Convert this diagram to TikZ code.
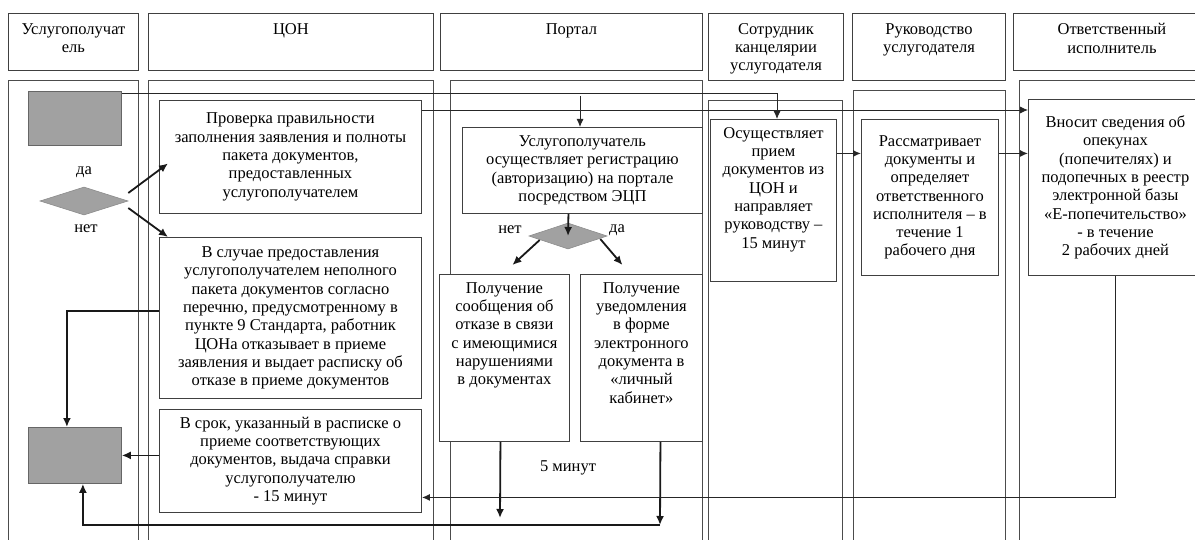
\documentclass[tikz,border=0pt]{standalone}
\usepackage{fontspec}
\setmainfont{Liberation Serif}
\usetikzlibrary{shapes.geometric,arrows.meta,calc}
\newcommand\dfont{\fontsize{16.5}{18.3}\selectfont}
\newcommand\cbx[3]{\parbox[c][#2][c]{#1}{\centering\dfont #3\par}}
\newcommand\tbx[4]{\parbox[c][#2][t]{#1}{\centering\dfont\vspace*{#3}#4\par}}
\begin{document}
\begin{tikzpicture}[x=1pt,y=-1pt,
  frame/.style={draw=black!70,line width=0.8pt},
  box/.style={draw=black!75,fill=white,line width=0.9pt,inner sep=0pt,anchor=north west,text=black},
  gbox/.style={draw=black!60,fill=black!37,line width=0.8pt,inner sep=0pt,anchor=north west},
  gdia/.style={diamond,draw=black!45,fill=black!37,line width=0.6pt,inner sep=0pt},
  lbl/.style={inner sep=0pt,font=\dfont,text=black},
  arrthin/.style={draw=black!85,line width=0.9pt,-{Latex[length=8pt,width=7pt]}},
  arrmid/.style={draw=black!85,line width=1.3pt,-{Latex[length=8pt,width=7pt]}},
  arrthick/.style={draw=black!90,line width=1.8pt,-{Latex[length=9pt,width=8pt]}}]
\useasboundingbox (0,0) rectangle (1195,540);
\clip (0,0) rectangle (1195,540);
\fill[white] (0,0) rectangle (1195,540);

% lane bodies
\draw[frame] (8,80) rectangle (138,560);
\draw[frame] (148,80) rectangle (433,560);
\draw[frame] (450,80) rectangle (702,560);
\draw[frame] (708,100) rectangle (842,560);
\draw[frame] (853,90) rectangle (1005,560);
\draw[frame] (1019,80) rectangle (1210,560);

% headers
\node[box] (h1) at (8,13) {\tbx{130pt}{57pt}{10pt}{Услугополучат\\ель}};
\node[box] (h2) at (148,13) {\tbx{285pt}{57pt}{10pt}{ЦОН}};
\node[box] (h3) at (440,13) {\tbx{262pt}{57pt}{10pt}{Портал}};
\node[box] (h4) at (708,13) {\tbx{135pt}{67pt}{10pt}{Сотрудник\\канцелярии\\услугодателя}};
\node[box] (h5) at (852,13) {\tbx{153pt}{67pt}{10pt}{Руководство\\услугодателя}};
\node[box] (h6) at (1013,13) {\tbx{197pt}{57pt}{10pt}{Ответственный\\исполнитель}};

% line behind boxes
\draw[arrthin] (121,93) -| (777,119);

% lane 1
\node[gbox,minimum width=93pt,minimum height=54pt] (g1) at (28,91) {};
\node[gbox,minimum width=93pt,minimum height=56pt] (g2) at (28,427) {};
\node[gdia,minimum width=88pt,minimum height=28pt] (d1) at (84,201) {};
\node[lbl] (t1) at (84,172) {да};
\node[lbl] (t2) at (86,229) {нет};

% ЦОН
\node[box] (c1) at (159,100) {\cbx{262pt}{113pt}{Проверка правильности\\заполнения заявления и полноты\\пакета документов,\\предоставленных\\услугополучателем}};
\node[box] (c2) at (159,237) {\cbx{262pt}{161pt}{В случае предоставления\\услугополучателем неполного\\пакета документов согласно\\перечню, предусмотренному в\\пункте 9 Стандарта, работник\\ЦОНа отказывает в приеме\\заявления и выдает расписку об\\отказе в приеме документов}};
\node[box] (c3) at (159,409) {\cbx{262pt}{103pt}{В срок, указанный в расписке о\\приеме соответствующих\\документов, выдача справки\\услугополучателю\\- 15 минут}};

% Портал
\node[box] (p0) at (462,127) {\cbx{240pt}{86pt}{Услугополучатель\\осуществляет регистрацию\\(авторизацию) на портале\\посредством ЭЦП}};
\node[gdia,minimum width=78pt,minimum height=26pt] (d2) at (568,236) {};
\node[lbl] (t3) at (510,230) {нет};
\node[lbl] (t4) at (617,230) {да};
\node[box] (p1) at (439,274) {\tbx{130pt}{167pt}{8pt}{Получение\\сообщения об\\отказе в связи\\с имеющимися\\нарушениями\\в документах}};
\node[box] (p2) at (580,274) {\tbx{122pt}{167pt}{8pt}{Получение\\уведомления\\в форме\\электронного\\документа в\\«личный\\кабинет»}};
\node[lbl] (t5) at (568,468) {5 минут};

% Сотрудник, Руководство, Ответственный
\node[box] (s1) at (710,119) {\tbx{126pt}{162pt}{8pt}{Осуществляет\\прием\\документов из\\ЦОН и\\направляет\\руководству –\\15 минут}};
\node[box] (r1) at (861,119) {\cbx{137pt}{156pt}{Рассматривает\\документы и\\определяет\\ответственного\\исполнителя – в\\течение 1\\рабочего дня}};
\node[box] (o1) at (1028,99) {\cbx{174pt}{176pt}{Вносит сведения об\\опекунах\\(попечителях) и\\подопечных в реестр\\электронной базы\\«Е-попечительство»\\- в течение\\2 рабочих дней}};

% connectors
\draw[arrthick] ($(d1.east)+(0,-8)$) -- ($(c1.west)+(9,6.5)$);
\draw[arrthick] ($(d1.east)+(0,7)$) -- ($(c2.north west)+(9,0)$);
\draw[arrthick] ($(c2.west)+(0,-7)$) -| ($(g2.north)+(-8,0)$);
\draw[arrthick] (c3.west |- g2.east) -- (g2.east);
\coordinate (bl) at (660,525);
\draw[arrthick] ($(p2.south)+(19,0)$) -- (bl);
\draw[arrthick] (bl) -| ($(g2.south)+(8,0)$);
\coordinate (pl) at (500,518);
\draw[arrthick] ($(p1.south)+(-4,0)$) -- (pl);
\draw[arrmid] (o1.south) |- ($(c3.east)+(0,36.5)$);
\draw[arrthin] ($(c1.north east)+(0,10)$) -- ($(o1.north west)+(0,11)$);
\coordinate (pin) at (580,96);
\draw[arrthin] (pin) -- (pin |- p0.north);
\draw[arrthick] ($(p0.south)+(-14,0)$) -- (d2.center);
\draw[arrthick] ($(d2.west)+(11,4)$) -- ($(p1.north)+(8,-9)$);
\draw[arrthick] ($(d2.east)+(-7,3)$) -- ($(p2.north)+(-19,-9)$);
\draw[arrmid] ($(s1.east)+(0,-47)$) -- ($(r1.west)+(0,-44)$);
\draw[arrmid] ($(r1.east)+(0,-44)$) -- ($(o1.west)+(0,-34)$);
\end{tikzpicture}
\end{document}
